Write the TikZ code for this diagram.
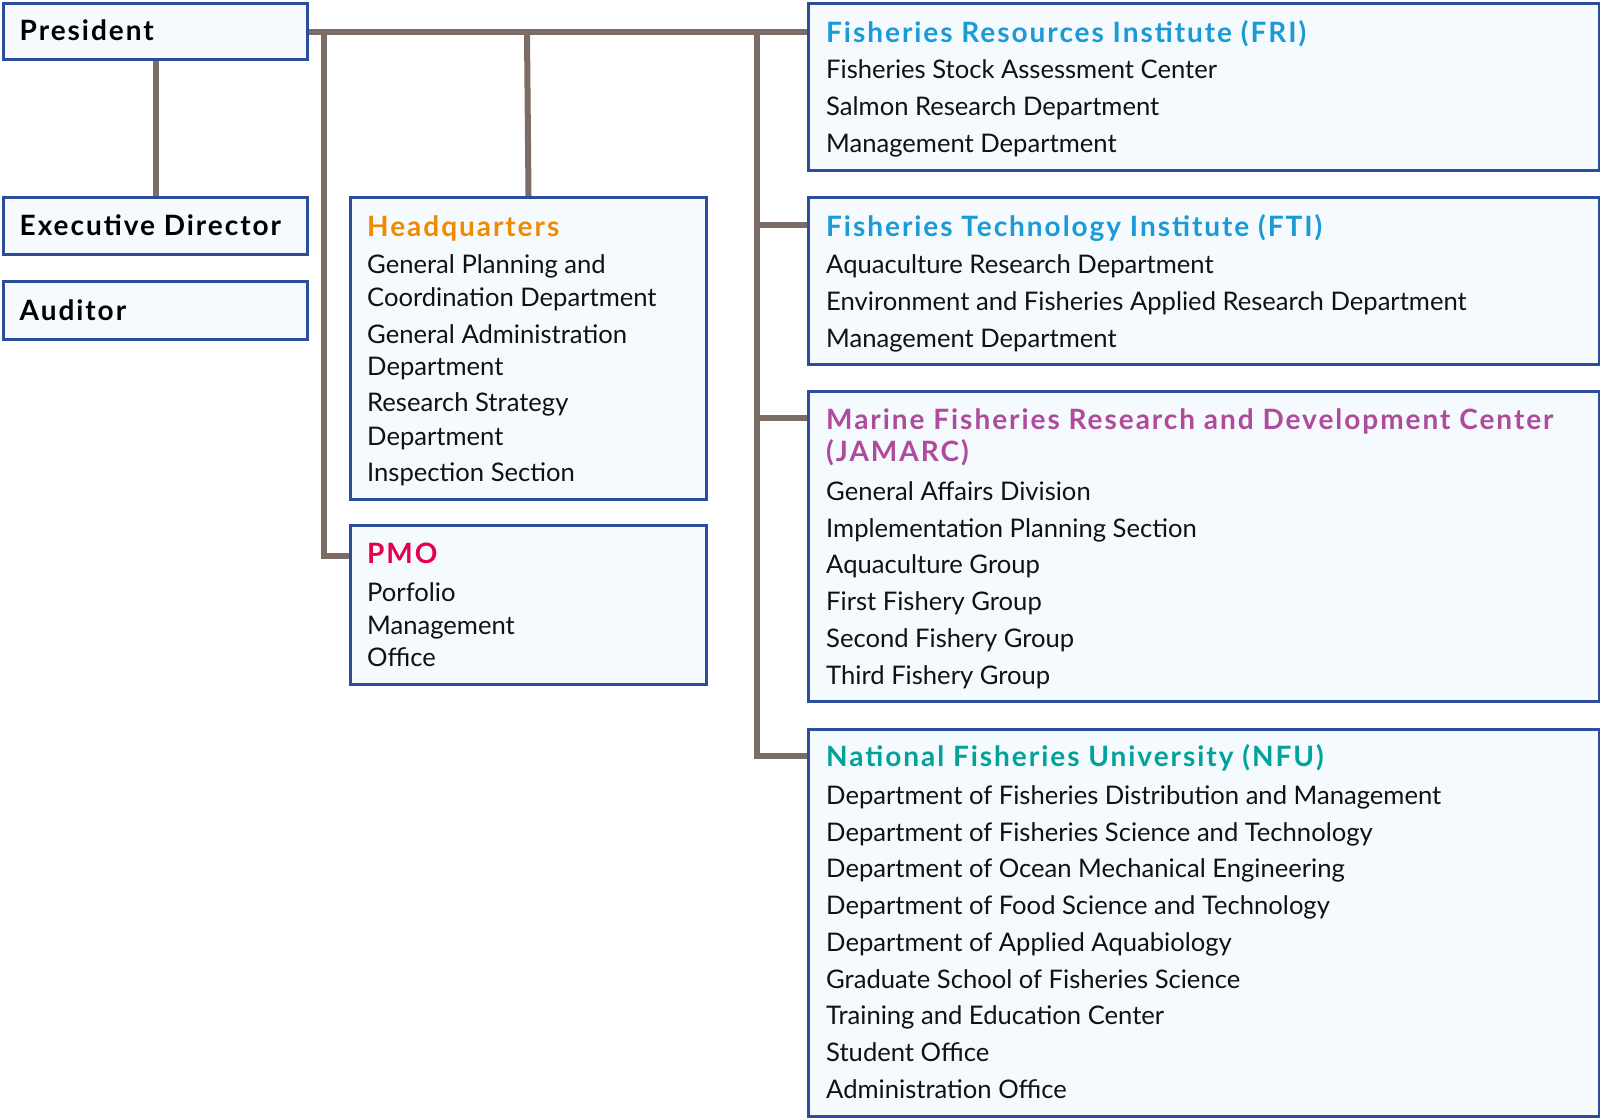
\documentclass[tikz,border=0pt]{standalone}
\usepackage{fontspec}
\setmainfont{Lato}
\newfontfamily\headfont{Lato}[LetterSpace=7]
\usetikzlibrary{calc}

\begin{document}
\begin{tikzpicture}[x=1pt, y=-1pt,
    orgbox/.style={draw=borderColour, fill=fillColour, line width=3pt, rectangle, inner sep=0pt, anchor=north west},
    link/.style={draw=linkColour, line width=6pt, line join=miter},
    itemtext/.style={anchor=base west, inner sep=0pt, text=textColour, font=\fontsize{25.6}{28}\selectfont},
    headtext/.style={anchor=base west, inner sep=0pt, font=\headfont\fontsize{28}{30}\selectfont\bfseries}]

    \definecolor{borderColour}{HTML}{2B4D9C}
    \definecolor{fillColour}{HTML}{F5FAFE}
    \definecolor{linkColour}{HTML}{7B6C66}
    \definecolor{textColour}{HTML}{111111}
    \definecolor{friColour}{HTML}{1A9AD6}
    \definecolor{hqColour}{HTML}{F08A00}
    \definecolor{pmoColour}{HTML}{E6004C}
    \definecolor{jamarcColour}{HTML}{B04B9C}
    \definecolor{nfuColour}{HTML}{00A29A}

    \useasboundingbox (0,0) rectangle (1600,1117);

    % Draw boxes
    \node[orgbox, minimum width=304, minimum height=56] (president) at (2,2) {};
    \node[orgbox, minimum width=304, minimum height=57] (exec) at (2,196) {};
    \node[orgbox, minimum width=304, minimum height=58] (auditor) at (2,280) {};
    \node[orgbox, minimum width=356, minimum height=302] (hq) at (349,196) {};
    \node[orgbox, minimum width=356, minimum height=159] (pmo) at (349,524) {};
    \node[orgbox, minimum width=791, minimum height=167] (fri) at (807,2) {};
    \node[orgbox, minimum width=791, minimum height=167] (fti) at (807,196) {};
    \node[orgbox, minimum width=791, minimum height=310] (jamarc) at (807,390) {};
    \node[orgbox, minimum width=791, minimum height=387] (nfu) at (807,728) {};

    % Draw connectors
    \coordinate (hqTop) at (527,35);
    \coordinate (pmoTop) at (324,35);
    \coordinate (instTop) at (757,35);
    \draw[link] (president.east) -- (fri.west |- president.east);
    \draw[link] (president.south) -- (exec.north);
    \draw[link] (hqTop) -- (hq.north);
    \draw[link] (pmoTop) |- ($(pmo.north west)+(0,32)$);
    \draw[link] (instTop) |- ($(nfu.north west)+(0,28)$);
    \draw[link] (instTop |- fti.north west) ++(0,29) coordinate (ftiJoin) -- ($(fti.north west)+(0,29)$);
    \draw[link] (instTop |- jamarc.north west) ++(0,28) coordinate (jamarcJoin) -- ($(jamarc.north west)+(0,28)$);

    % Left column
    \node[headtext, text=black] (president-t) at (19.5,40) {President};
    \node[headtext, text=black] (exec-t) at (19.5,235) {Executive Director};
    \node[headtext, text=black] (auditor-t) at (19.5,320) {Auditor};

    % Headquarters
    \node[headtext, text=hqColour] (hq-t) at (367,236) {Headquarters};
    \foreach \y/\txt [count=\i] in {273.8/General Planning and, 306.4/Coordination Department,
        343.2/General Administration, 375.8/Department, 411.5/Research Strategy,
        445.2/Department, 481.9/Inspection Section}
        \node[itemtext] (hq-\i) at (367,\y) {\txt};

    % PMO
    \node[headtext, text=pmoColour] (pmo-t) at (367,563.6) {PMO};
    \foreach \y/\txt [count=\i] in {601.3/Porfolio, 634/Management, 666.6/Office}
        \node[itemtext] (pmo-\i) at (367,\y) {\txt};

    % Fisheries Resources Institute
    \node[headtext, text=friColour] (fri-t) at (826,42.5) {Fisheries Resources Institute (FRI)};
    \foreach \y/\txt [count=\i] in {78.9/Fisheries Stock Assessment Center,
        115.6/Salmon Research Department, 152.4/Management Department}
        \node[itemtext] (fri-\i) at (826,\y) {\txt};

    % Fisheries Technology Institute
    \node[headtext, text=friColour] (fti-t) at (826,236) {Fisheries Technology Institute (FTI)};
    \foreach \y/\txt [count=\i] in {273.8/Aquaculture Research Department,
        310.5/Environment and Fisheries Applied Research Department, 347.3/Management Department}
        \node[itemtext] (fti-\i) at (826,\y) {\txt};

    % JAMARC
    \node[headtext, text=jamarcColour] (jamarc-t) at (826,429.9) {Marine Fisheries Research and Development Center};
    \node[headtext, text=jamarcColour] (jamarc-t2) at (826,461.5) {(JAMARC)};
    \foreach \y/\txt [count=\i] in {500.3/General Affairs Division, 537/Implementation Planning Section,
        573.8/Aquaculture Group, 610.5/First Fishery Group, 647.3/Second Fishery Group,
        684/Third Fishery Group}
        \node[itemtext] (jamarc-\i) at (826,\y) {\txt};

    % National Fisheries University
    \node[headtext, text=nfuColour] (nfu-t) at (826,766) {National Fisheries University (NFU)};
    \foreach \y/\txt [count=\i] in {804.4/Department of Fisheries Distribution and Management,
        841.1/Department of Fisheries Science and Technology,
        877.9/Department of Ocean Mechanical Engineering,
        914.6/Department of Food Science and Technology,
        951.3/Department of Applied Aquabiology,
        988.1/Graduate School of Fisheries Science,
        1024.8/Training and Education Center,
        1061.5/Student Office, 1098.3/Administration Office}
        \node[itemtext] (nfu-\i) at (826,\y) {\txt};

\end{tikzpicture}
\end{document}
